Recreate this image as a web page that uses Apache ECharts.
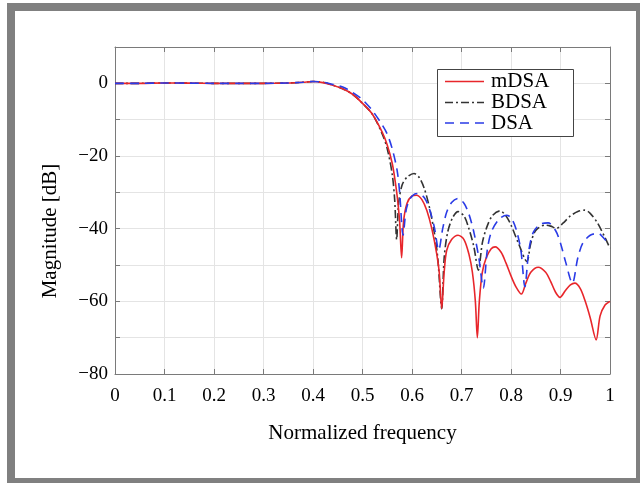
<!DOCTYPE html>
<html>
<head>
<meta charset="utf-8">
<script src="https://cdn.jsdelivr.net/npm/echarts@6/dist/echarts.min.js"></script>
<style>
html,body{margin:0;padding:0;background:#fff;}
#c{width:640px;height:483px;}
</style>
</head>
<body>
<div id="c"></div>
<script>
// ---- data ----
const xTicks = [0,0.1,0.2,0.3,0.4,0.5,0.6,0.7,0.8,0.9,1];
const yTicks = [0,-20,-40,-60,-80];

const mdsaFreq = [0,0.05,0.1,0.15,0.2,0.25,0.3,0.35,0.38,0.4,0.42,0.44,0.46,0.48,0.5,0.52,0.54,0.55,0.56,0.565,0.57,0.575,0.579,0.583,0.59,0.6,0.609,0.62,0.63,0.64,0.65,0.655,0.66,0.665,0.67,0.68,0.693,0.705,0.715,0.722,0.728,0.732,0.736,0.742,0.75,0.76,0.768,0.78,0.79,0.8,0.81,0.821,0.83,0.84,0.855,0.87,0.88,0.89,0.899,0.91,0.92,0.929,0.94,0.95,0.96,0.972,0.98,0.99,1.0];
const mdsaMag  = [0,0,0.1,0.05,0,0,0,0.1,0.3,0.5,0.2,-0.5,-1.5,-3,-5.5,-8.5,-13.5,-17,-22,-26,-31,-38,-48,-38,-33,-31,-30.8,-32,-35,-40,-47,-52,-62,-52,-46,-43,-41.8,-43,-47,-52,-60,-70,-60,-52,-48,-45.5,-45,-46.5,-49.5,-53,-56,-58,-55,-52,-50.6,-52,-54.5,-57.5,-58.9,-57,-55.5,-55,-56.5,-60,-64.5,-70.6,-64,-61,-60];

const bdsaFreq = [0,0.05,0.1,0.15,0.2,0.25,0.3,0.35,0.38,0.4,0.42,0.44,0.46,0.48,0.5,0.52,0.54,0.55,0.56,0.565,0.569,0.573,0.58,0.59,0.604,0.615,0.625,0.635,0.645,0.652,0.66,0.665,0.672,0.682,0.693,0.705,0.715,0.725,0.734,0.742,0.75,0.762,0.778,0.79,0.8,0.815,0.832,0.84,0.85,0.869,0.88,0.892,0.905,0.92,0.935,0.949,0.96,0.975,0.99,1.0];
const bdsaMag  = [0,0,0.1,0.05,0,0,0,0.1,0.3,0.5,0.3,-0.5,-1.5,-3,-5.5,-8.5,-14,-18,-25,-32,-43,-33,-28,-25.8,-24.8,-26,-29,-34,-41,-48,-62,-48,-41,-37,-35.3,-36.5,-40,-45,-51.4,-44,-40,-36.5,-35.1,-36.5,-39,-44,-49,-44,-40.5,-39,-39.3,-39.9,-38.5,-36.5,-35.3,-34.9,-35.8,-38.5,-42.5,-45.4];

const dsaFreq = [0,0.05,0.1,0.15,0.2,0.25,0.3,0.35,0.38,0.4,0.42,0.44,0.46,0.48,0.5,0.52,0.54,0.55,0.56,0.57,0.575,0.582,0.588,0.595,0.605,0.613,0.625,0.635,0.645,0.654,0.662,0.67,0.68,0.693,0.705,0.715,0.725,0.735,0.744,0.752,0.76,0.775,0.791,0.8,0.81,0.82,0.828,0.836,0.845,0.86,0.875,0.89,0.9,0.91,0.924,0.935,0.945,0.96,0.976,0.99,1.0];
const dsaMag  = [0,0,0.1,0.05,0,0,0,0.1,0.3,0.5,0.3,-0.3,-1.0,-2.5,-4.5,-7.5,-11.5,-14,-18,-24,-30,-41.8,-35,-32,-30.5,-30.3,-31.5,-34.5,-39.5,-45.9,-40,-35.5,-32.8,-31.7,-33,-36,-41,-48,-56.4,-46,-41,-37.5,-36.3,-37,-40,-46,-56,-46,-41,-38.7,-38.4,-40.5,-44,-49,-55,-48,-44,-41.8,-41.3,-43,-44];

const seriesNames = ['mDSA','BDSA','DSA'];
const seriesColors = ['#e8262b','#333333','#2a3be6'];
const seriesDash = ['solid',[8,3,2,3],[9,6]];
const xTitle = 'Normalized frequency';
const yTitle = 'Magnitude [dB]';

function pairs(xs, ys){ return xs.map((x,i)=>[x, ys[i]]); }

const FONT = '"Liberation Serif", "Times New Roman", serif';
const chart = echarts.init(document.getElementById('c'), null, {renderer:'canvas'});

const axisLineStyle = {color:'#7a7a7a', width:1};

// legend drawn as graphic elements (box, line samples, texts)
const legendBox = {x:437, y:69, w:136, h:67};
const legendRows = [81.5, 102.5, 123];
const legendGraphics = [
  {type:'rect', z:100, shape:{x:legendBox.x+0.5, y:legendBox.y+0.5, width:legendBox.w, height:legendBox.h},
   style:{fill:'#fff', stroke:'#444', lineWidth:1}}
];
seriesNames.forEach((n,i)=>{
  legendGraphics.push({type:'line', z:101, shape:{x1:445, y1:legendRows[i], x2:484, y2:legendRows[i]},
    style:{stroke:seriesColors[i], lineWidth:1.6, lineDash: seriesDash[i]==='solid'?null:seriesDash[i]}});
  legendGraphics.push({type:'text', z:101, x:491, y:legendRows[i],
    style:{text:n, font:'21px "Liberation Serif", serif', fill:'#000', verticalAlign:'middle'}});
});

chart.setOption({
  animation:false,
  backgroundColor:'#fff',
  graphic:[
    {type:'rect', shape:{x:7,y:3,width:633,height:8}, style:{fill:'#808080'}},
    {type:'rect', shape:{x:7,y:3,width:8,height:480}, style:{fill:'#808080'}},
    {type:'rect', shape:{x:636,y:3,width:4,height:480}, style:{fill:'#808080'}},
    {type:'rect', shape:{x:7,y:478,width:633,height:5}, style:{fill:'#808080'}},
    {type:'text', x:50, y:231, rotation:Math.PI/2,
     style:{text:yTitle, font:'21px "Liberation Serif", serif', fill:'#000', align:'center', verticalAlign:'middle'}}
  ].concat(legendGraphics),
  grid:{left:115, right:30, top:47, bottom:109, containLabel:false},
  xAxis:[{
    type:'value', min:0, max:1, interval:0.1,
    name:xTitle, nameLocation:'middle', nameGap:49,
    nameTextStyle:{fontFamily:FONT, fontSize:21, color:'#000'},
    axisLine:{onZero:false, lineStyle:axisLineStyle},
    axisTick:{inside:true, length:5, lineStyle:axisLineStyle},
    splitLine:{show:true, lineStyle:{color:'#e4e4e4'}},
    axisLabel:{fontFamily:FONT, fontSize:19, color:'#000', margin:13,
      formatter:v=>{const t=xTicks.find(k=>Math.abs(k-v)<1e-6); return t===undefined?'':(t===0||t===1?String(t):t.toFixed(1));}}
  },{
    type:'value', min:0, max:1, interval:0.1, position:'top',
    axisLine:{onZero:false, lineStyle:axisLineStyle},
    axisTick:{inside:true, length:5, lineStyle:axisLineStyle},
    axisLabel:{show:false}, splitLine:{show:false}
  }],
  yAxis:[{
    type:'value', min:-80, max:10, interval:10,
    axisLine:{show:true, onZero:false, lineStyle:axisLineStyle},
    axisTick:{show:true, inside:true, length:5, lineStyle:axisLineStyle},
    splitLine:{show:true, lineStyle:{color:'#e4e4e4'}},
    axisLabel:{fontFamily:FONT, fontSize:19, color:'#000', margin:7, padding:[5,0,0,0],
      formatter:v=>{const t=yTicks.find(k=>Math.abs(k-v)<1e-6); return t===undefined?'':(t<0?'\u2212'+Math.abs(t):String(t));}}
  },{
    type:'value', min:-80, max:10, interval:10, position:'right',
    axisLine:{show:true, onZero:false, lineStyle:axisLineStyle},
    axisTick:{show:true, inside:true, length:5, lineStyle:axisLineStyle},
    axisLabel:{show:false}, splitLine:{show:false}
  }],
  series:[
    {name:'mDSA', type:'line', data:pairs(mdsaFreq, mdsaMag), showSymbol:false, symbol:'none', smooth:0.3,
     lineStyle:{color:seriesColors[0], width:1.6, type:seriesDash[0]}, itemStyle:{color:seriesColors[0]}, z:3},
    {name:'BDSA', type:'line', data:pairs(bdsaFreq, bdsaMag), showSymbol:false, symbol:'none', smooth:0.3,
     lineStyle:{color:seriesColors[1], width:1.6, type:seriesDash[1]}, itemStyle:{color:seriesColors[1]}, z:2},
    {name:'DSA', type:'line', data:pairs(dsaFreq, dsaMag), showSymbol:false, symbol:'none', smooth:0.3,
     lineStyle:{color:seriesColors[2], width:1.6, type:seriesDash[2]}, itemStyle:{color:seriesColors[2]}, z:4}
  ]
});
</script>
</body>
</html>
